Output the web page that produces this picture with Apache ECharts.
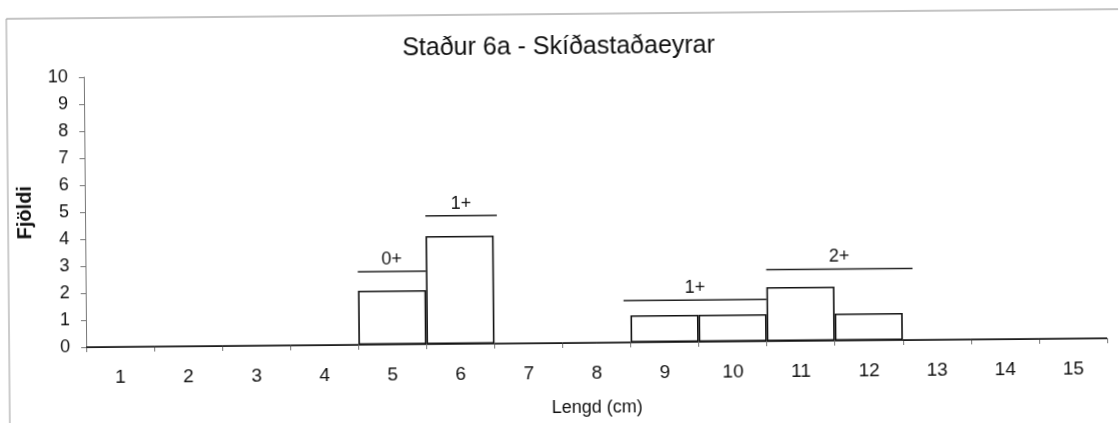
<!DOCTYPE html>
<html>
<head>
<meta charset="utf-8">
<script src="https://cdn.jsdelivr.net/npm/echarts@6/dist/echarts.min.js"></script>
<style>html,body{margin:0;padding:0;background:#fff;overflow:hidden}#c{width:1120px;height:423px;transform:rotate(-0.5deg);transform-origin:50% 50%}</style>
</head>
<body>
<div id="c"></div>
<script>
var categories = ['1','2','3','4','5','6','7','8','9','10','11','12','13','14','15'];
var counts = [0,0,0,0,2,4,0,0,1,1,2,1,0,0,0];
var yTicks = [0,1,2,3,4,5,6,7,8,9,10];
// age-group annotation lines: [start, end, level, label]
var ageStart = [4.5, 5.5, 8.4, 10.5];
var ageEnd   = [5.5, 6.55, 10.5, 12.65];
var ageLevel = [2.7, 4.75, 1.55, 2.65];
var ageLabel = ['0+', '1+', '1+', '2+'];

var annData = ageStart.map(function(s, i){ return [s, ageEnd[i], ageLevel[i], ageLabel[i]]; });

var chart = echarts.init(document.getElementById('c'));
var font = 'Liberation Sans, Arial, sans-serif';
chart.setOption({
  animation: false,
  backgroundColor: '#fff',
  title: {
    text: 'Staður 6a - Skíðastaðaeyrar',
    left: 'center', top: 30,
    textStyle: {fontFamily: font, fontSize: 25, fontWeight: 'normal', color: '#111'}
  },
  graphic: [
    {type: 'line', shape: {x1: 8, y1: 14, x2: 1120, y2: 14}, style: {stroke: '#888', lineWidth: 1}},
    {type: 'line', shape: {x1: 8, y1: 14, x2: 8, y2: 430}, style: {stroke: '#999', lineWidth: 1}}
  ],
  grid: {left: 85, right: 14, top: 73, bottom: 80},
  xAxis: [{
    type: 'category', data: categories,
    name: 'Lengd (cm)', nameLocation: 'middle', nameGap: 56,
    nameTextStyle: {fontFamily: font, fontSize: 18, color: '#111'},
    axisLine: {lineStyle: {color: '#444', width: 1}},
    axisTick: {show: true, length: 5, lineStyle: {color: '#777'}},
    axisLabel: {fontFamily: font, fontSize: 19, color: '#111', margin: 21}
  }, {
    type: 'value', min: 0.5, max: 15.5, show: false
  }],
  yAxis: {
    type: 'value', min: 0, max: 10, interval: 1,
    name: 'Fjöldi', nameLocation: 'middle', nameGap: 50, nameRotate: 90,
    nameTextStyle: {fontFamily: font, fontSize: 20, fontWeight: 'bold', color: '#111'},
    axisLine: {show: true, lineStyle: {color: '#777', width: 1}},
    axisTick: {show: true, length: 5, lineStyle: {color: '#777'}},
    splitLine: {show: false},
    axisLabel: {fontFamily: font, fontSize: 18, color: '#111', margin: 16,
      formatter: function(v){ return yTicks.indexOf(v) >= 0 ? String(v) : ''; }}
  },
  series: [{
    type: 'bar', data: counts, barCategoryGap: '0%',
    itemStyle: {color: '#fff', borderColor: '#111', borderWidth: 1.6}
  }, {
    type: 'custom', xAxisIndex: 1, data: annData,
    renderItem: function(params, api){
      var p0 = api.coord([api.value(0), api.value(2)]);
      var p1 = api.coord([api.value(1), api.value(2)]);
      return {
        type: 'group',
        children: [
          {type: 'line', shape: {x1: p0[0], y1: p0[1], x2: p1[0], y2: p1[1]},
            style: {stroke: '#222', lineWidth: 1.5}},
          {type: 'text', x: (p0[0] + p1[0]) / 2, y: p0[1] - 3,
            style: {text: annData[params.dataIndex][3], fill: '#111', fontFamily: font, fontSize: 18,
              textAlign: 'center', textVerticalAlign: 'bottom'}}
        ]
      };
    }
  }]
});
</script>
</body>
</html>
